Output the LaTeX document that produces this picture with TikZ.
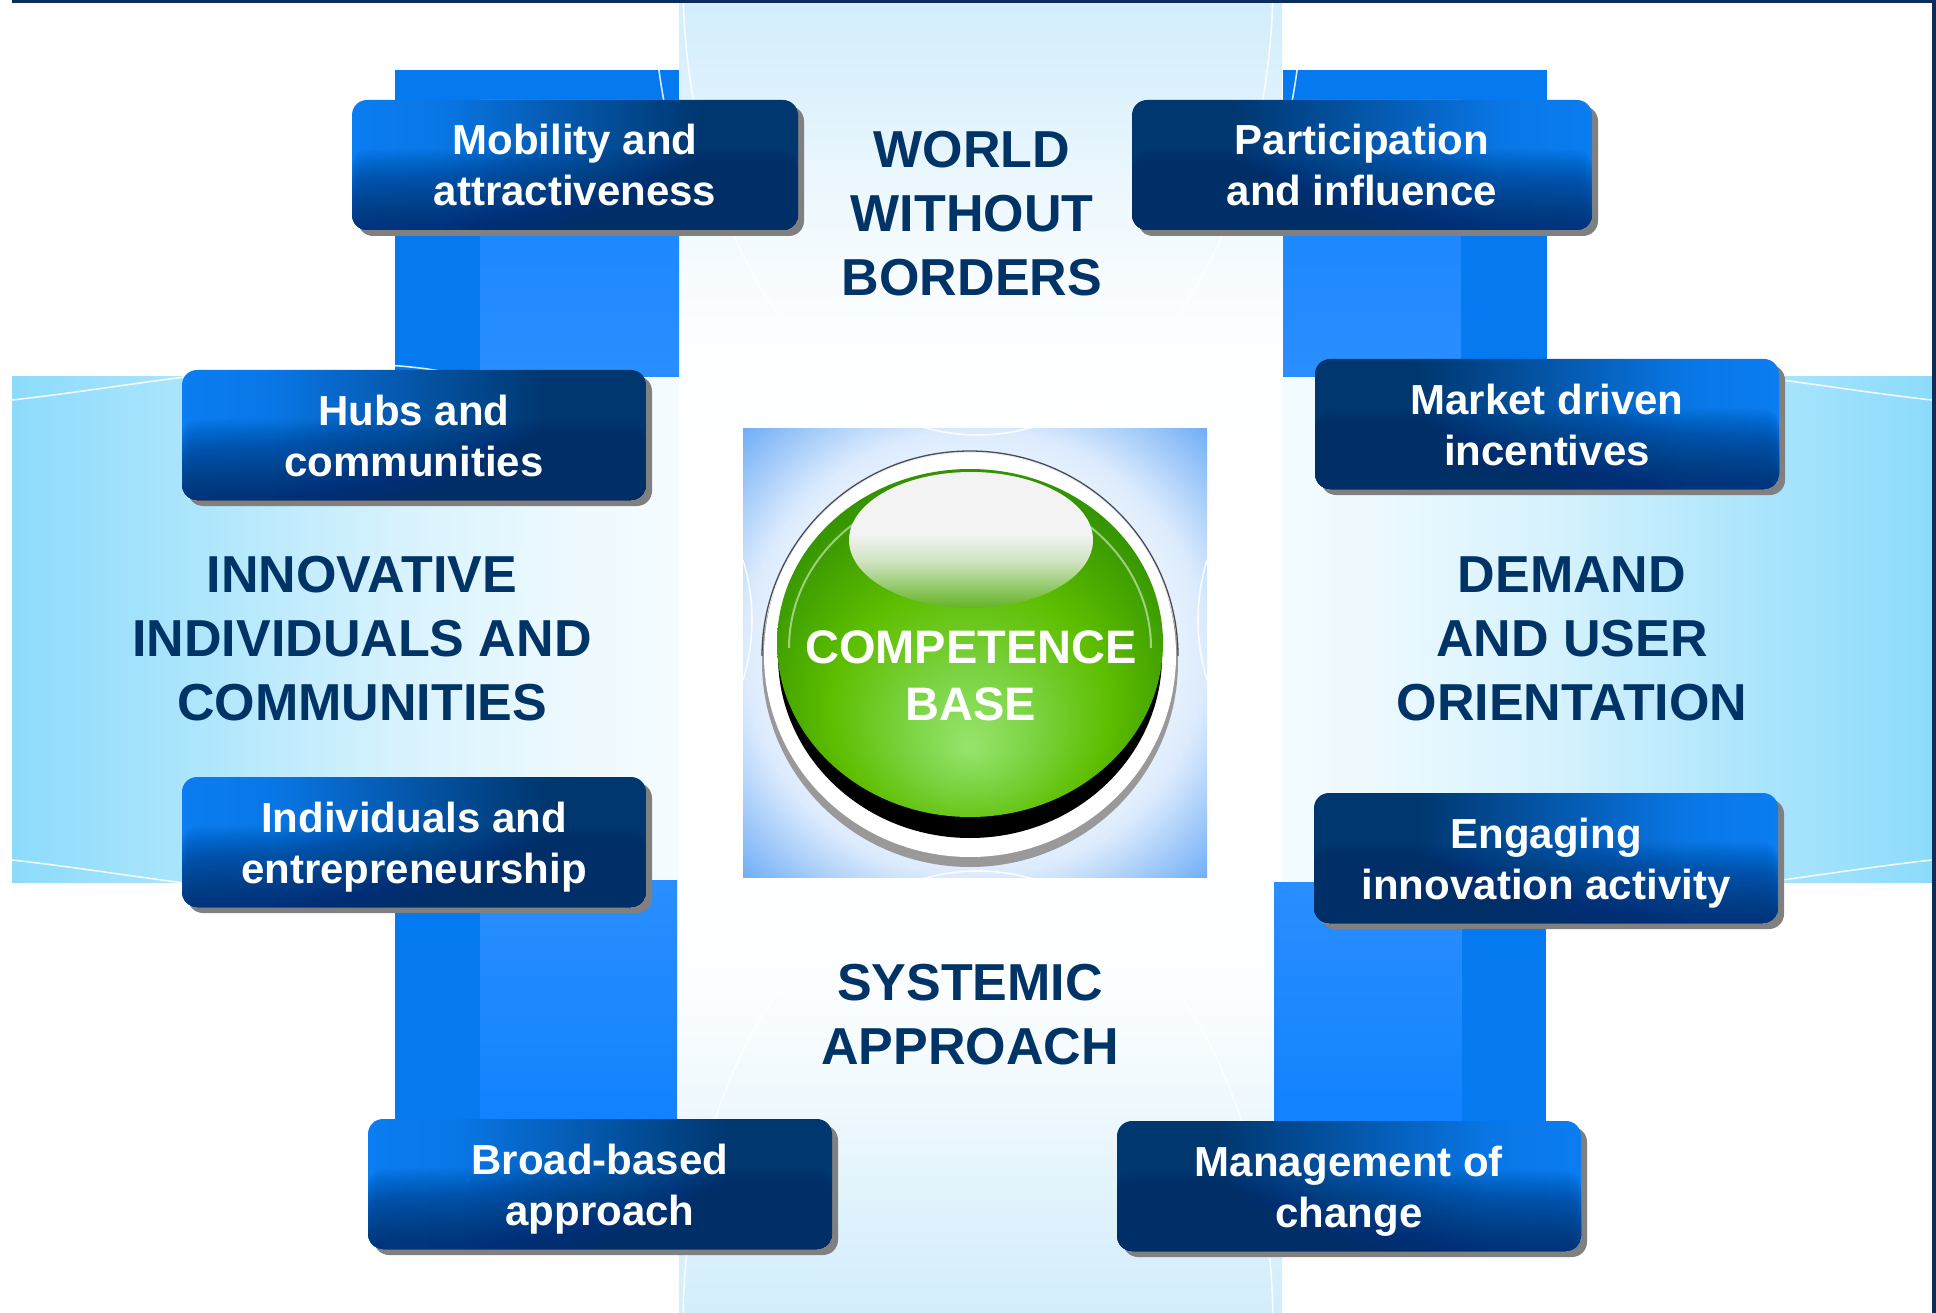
\documentclass[tikz,border=0pt]{standalone}
\usepackage{fontspec}
\setmainfont{Liberation Sans}
\usetikzlibrary{shadows,calc}

\definecolor{navytxt}{RGB}{0,51,102}
\definecolor{bandc}{HTML}{8CDBFB}
\definecolor{vbandc}{HTML}{D2EDFB}
\definecolor{rectblue}{HTML}{1282FF}
\definecolor{rectdark}{HTML}{0479F0}
\definecolor{boxbright}{HTML}{0A7DF2}
\definecolor{boxnavy}{HTML}{00376F}
\definecolor{boxbot}{HTML}{002E66}
\definecolor{sqblue}{HTML}{6AAAF6}
\definecolor{framec}{HTML}{0B2D5C}
\definecolor{gA}{HTML}{98E46C}
\definecolor{gB}{HTML}{7CD444}
\definecolor{gC}{HTML}{5EBE00}
\definecolor{gD}{HTML}{369600}
\definecolor{gE}{HTML}{267C00}
\definecolor{hlw}{HTML}{F3F3F3}
\definecolor{hlg}{HTML}{62B424}

\pgfdeclarehorizontalshading{hband}{100bp}{color(0bp)=(bandc); color(25bp)=(bandc); color(30bp)=(bandc!70!white); color(35bp)=(bandc!35!white); color(40bp)=(bandc!14!white); color(45bp)=(bandc!4!white); color(50bp)=(white); color(55bp)=(bandc!4!white); color(60bp)=(bandc!14!white); color(65bp)=(bandc!35!white); color(70bp)=(bandc!70!white); color(75bp)=(bandc); color(100bp)=(bandc)}
\pgfdeclareverticalshading{vband}{100bp}{color(0bp)=(vbandc); color(25bp)=(vbandc); color(29bp)=(vbandc!70!white); color(33bp)=(vbandc!35!white); color(37bp)=(vbandc!10!white); color(42bp)=(white); color(58bp)=(white); color(63bp)=(vbandc!10!white); color(67bp)=(vbandc!35!white); color(71bp)=(vbandc!70!white); color(75bp)=(vbandc); color(100bp)=(vbandc)}
\pgfdeclareradialshading{sqshade}{\pgfpoint{0bp}{0bp}}{color(0bp)=(white); color(14bp)=(white); color(25bp)=(sqblue!24!white); color(36bp)=(sqblue); color(50bp)=(sqblue)}
\pgfdeclareradialshading{greenball}{\pgfpoint{0bp}{-15bp}}{color(0bp)=(gA); color(8bp)=(gB); color(18bp)=(gC); color(29bp)=(gD); color(39bp)=(gE); color(50bp)=(gE)}
\pgfdeclarehorizontalshading{lboxsh}{100bp}{color(0bp)=(boxbright); color(25bp)=(boxbright); color(35bp)=(boxbright!90!boxnavy); color(64bp)=(boxnavy); color(100bp)=(boxnavy)}
\pgfdeclarehorizontalshading{rboxsh}{100bp}{color(0bp)=(boxnavy); color(36bp)=(boxnavy); color(65bp)=(boxbright!90!boxnavy); color(75bp)=(boxbright); color(100bp)=(boxbright)}
\pgfdeclareverticalshading{hlsh}{100bp}{color(0bp)=(hlg); color(25bp)=(hlg); color(42bp)=(hlw!75!hlg); color(52bp)=(hlw); color(100bp)=(hlw)}

\newcommand\boxfont{\fontsize{42pt}{51pt}\selectfont\bfseries}
\newcommand\labfont{\fontsize{52pt}{64pt}\selectfont\bfseries}
\newcommand\compfont{\fontsize{47pt}{57pt}\selectfont\bfseries}

\tikzset{
  boxbase/.style={rounded corners=15pt, minimum height=130pt, minimum width=464pt,
    inner sep=0pt, text=white, align=center, font=\boxfont,
    general shadow={shadow xshift=6pt, shadow yshift=-6pt, fill=black!50},
    path picture={\foreach \f in {0.38,0.392,...,0.96}{%
      \fill[boxbot, opacity=0.028]
      ($(path picture bounding box.north west)!\f!(path picture bounding box.south west)$)
      rectangle (path picture bounding box.south east);}}},
  lbox/.style={boxbase, shade, shading=lboxsh},
  rbox/.style={boxbase, shade, shading=rboxsh},
  maintext/.style={text=navytxt, align=center, font=\labfont, inner sep=0pt},
  deco/.style={draw=white, line width=1.6pt, opacity=.85},
}

\begin{document}
\begin{tikzpicture}[x=1pt,y=-1pt]
\useasboundingbox (0,0) rectangle (1936,1313);
\fill[white] (0,0) rectangle (1936,1313);

% bands
\shade[shading=hband] (12,377) rectangle (1932,882);
\shade[shading=vband] (679,0) rectangle (1282,1313);

% blue pillars
\fill[rectdark] (395,70) rectangle (679,377);
\shade[top color=rectblue, bottom color=rectblue!90!white] (480,100) rectangle (679,377);
\fill[rectdark] (1283,70) rectangle (1547,377);
\shade[top color=rectblue, bottom color=rectblue!90!white] (1283,100) rectangle (1461,377);
\fill[rectdark] (395,880) rectangle (677,1120);
\shade[top color=rectblue!90!white, bottom color=rectblue] (480,880) rectangle (677,1120);
\fill[rectdark] (1274,882) rectangle (1546,1121);
\shade[top color=rectblue!90!white, bottom color=rectblue] (1274,882) rectangle (1462,1121);

% centre square
\shade[shading=sqshade] (743,429) rectangle (1207,877);

% decorative white arcs
\begin{scope}
  \clip (0,0) rectangle (1936,1313);
  \draw[deco] (978,-20) ellipse [x radius=295, y radius=455];
  \draw[deco] (978,1326) ellipse [x radius=295, y radius=455];
\end{scope}
\begin{scope}
  \clip (395,70) rectangle (679,377) (1283,70) rectangle (1547,377);
  \draw[deco] (978,-20) ellipse [x radius=325, y radius=470];
\end{scope}
\draw[deco] (12,400) .. controls (150,385) and (330,345) .. (460,375);
\draw[deco] (1932,400) .. controls (1794,385) and (1614,345) .. (1484,375);
\draw[deco] (12,860) .. controls (150,875) and (330,915) .. (460,885);
\draw[deco] (1932,860) .. controls (1794,875) and (1614,915) .. (1484,885);
\draw[deco] (743,560) .. controls (755,600) and (755,640) .. (743,680);
\draw[deco] (1207,560) .. controls (1195,600) and (1195,640) .. (1207,680);

% frame lines
\fill[framec] (12,0) rectangle (1936,3.5);
\fill[framec] (1932,0) rectangle (1935.5,1313);

% boxes
\node[lbox, minimum width=446pt] (mob) at (575,165) {\rule{0pt}{31pt}Mobility and\\\smash{attractiveness}};
\node[rbox, minimum width=460pt] (part) at (1362,165) {\rule{0pt}{31pt}Participation\\\smash{and influence}};
\node[lbox] (hubs) at (414,435) {\rule{0pt}{31pt}Hubs and\\\smash{communities}};
\node[rbox] (market) at (1547,424) {\rule{0pt}{31pt}Market driven\\\smash{incentives}};
\node[lbox] (indiv) at (414,842) {\rule{0pt}{31pt}Individuals and\\\smash{entrepreneurship}};
\node[rbox] (engage) at (1546,858) {\rule{0pt}{31pt}Engaging\\\smash{innovation activity}};
\node[lbox] (broad) at (600,1184) {\rule{0pt}{31pt}Broad-based\\\smash{approach}};
\node[rbox] (mgmt) at (1349,1186) {\rule{0pt}{31pt}Management of\\\smash{change}};

% main labels
\node[maintext] (world) at (972,213) {\rule{0pt}{38pt}WORLD\\WITHOUT\\\smash{BORDERS}};
\node[maintext] (innov) at (362,637) {\rule{0pt}{38pt}INNOVATIVE\\INDIVIDUALS AND\\\smash{COMMUNITIES}};
\node[maintext] (demand) at (1572,637) {\rule{0pt}{38pt}DEMAND\\AND USER\\\smash{ORIENTATION}};
\node[maintext] (systemic) at (970,1013) {\rule{0pt}{38pt}SYSTEMIC\\\smash{APPROACH}};

% competence ball
\fill[black!40] (970,662) ellipse [x radius=208, y radius=205];
\fill[white] (970,655) ellipse [x radius=206, y radius=202];
\draw[black!70, line width=1.3pt] (762,656) arc [start angle=180, end angle=360, x radius=208, y radius=205];
\fill[black] (970,656) ellipse [x radius=192, y radius=182];
\shade[shading=greenball] (970,643) ellipse [x radius=193, y radius=174];
\draw[white, opacity=.5, line width=2pt] (789,648) arc [start angle=180, end angle=360, x radius=181, y radius=162];
\shade[shading=hlsh] (971,540) ellipse [x radius=122, y radius=68];
\node[text=white, font=\compfont, align=center, inner sep=0pt] (comp) at (971,674.5) {\rule{0pt}{34pt}COMPETENCE\\\smash{BASE}};
\end{tikzpicture}
\end{document}
